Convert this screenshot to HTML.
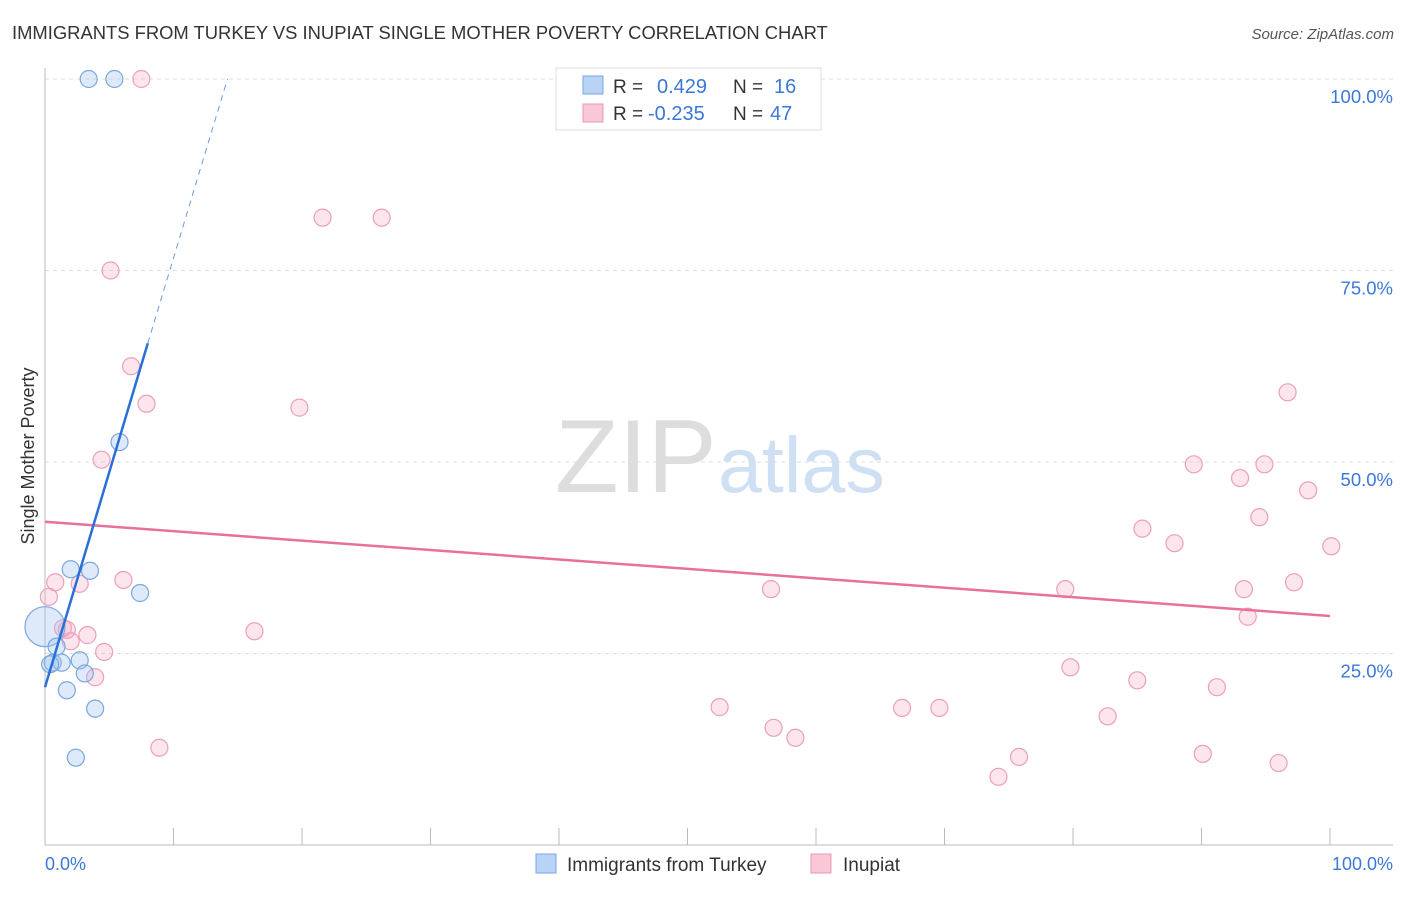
<!DOCTYPE html>
<html><head><meta charset="utf-8"><style>
body{margin:0;background:#fff;font-family:"Liberation Sans",sans-serif;}
svg text{font-family:"Liberation Sans",sans-serif;}
</style></head><body>
<svg id="c" width="1406" height="892">
<text x="12" y="39" font-size="18.4" fill="#333">IMMIGRANTS FROM TURKEY VS INUPIAT SINGLE MOTHER POVERTY CORRELATION CHART</text>
<text x="1394" y="39" font-size="15" fill="#555" text-anchor="end" font-style="italic">Source: ZipAtlas.com</text>
<text x="34" y="456" font-size="18" fill="#333" text-anchor="middle" transform="rotate(-90 34 456)">Single Mother Poverty</text>
<text x="555" y="492" font-size="104" fill="#ddd" font-family="Liberation Serif">ZIP</text>
<text x="718" y="492" font-size="79" fill="#cfe0f5">atlas</text>
<g id="grid"></g><g id="pts"></g><g id="lines"></g>
<g>
<rect x="556" y="68" width="265" height="62" fill="#fff" stroke="#ddd"/>
<rect x="583" y="76" width="20" height="18" fill="#b8d3f5" stroke="#7aa7e0"/>
<text x="613" y="93" font-size="19" fill="#333">R = </text><text x="657" y="93" font-size="20" fill="#3a78d8">0.429</text>
<text x="733" y="93" font-size="19" fill="#333">N = </text><text x="774" y="93" font-size="20" fill="#3a78d8">16</text>
<rect x="583" y="104" width="20" height="18" fill="#f8c8d6" stroke="#e898b0"/>
<text x="613" y="120" font-size="19" fill="#333">R = </text><text x="648" y="120" font-size="20" fill="#3a78d8">-0.235</text>
<text x="733" y="120" font-size="19" fill="#333">N = </text><text x="770" y="120" font-size="20" fill="#3a78d8">47</text>
</g>
<g>
<rect x="536" y="854" width="20" height="19" fill="#b8d3f5" stroke="#7aa7e0"/>
<text x="567" y="871" font-size="19" fill="#333">Immigrants from Turkey</text>
<rect x="811" y="854" width="20" height="19" fill="#f8c8d6" stroke="#e898b0"/>
<text x="843" y="871" font-size="19" fill="#333">Inupiat</text>
</g>
<text x="45" y="870" font-size="18" fill="#3a78d8">0.0%</text>
<text x="1393" y="870" font-size="18" fill="#3a78d8" text-anchor="end">100.0%</text>
</svg>
<script>
const yTicks=[100,75,50,25];
const yTickLabels=["100.0%","75.0%","50.0%","25.0%"];
const blueX=[3.4,5.4,5.8,2.0,3.5,7.4,0.0,0.9,0.6,1.3,2.7,3.1,1.7,3.9,2.4,0.4];
const blueY=[100,100,52.6,36.0,35.8,32.9,28.5,25.9,23.8,23.8,24.1,22.4,20.2,17.8,11.4,23.6];
const pinkX=[7.5,21.6,26.2,5.1,6.7,7.9,19.8,4.4,0.8,0.3,2.7,6.1,1.4,1.7,2.0,3.3,4.6,3.9,8.9,16.3,52.5,56.5,56.7,58.4,66.7,69.6,74.2,75.8,79.4,79.8,82.7,85.0,85.4,87.9,89.4,90.1,91.2,93.0,93.3,93.6,94.5,94.9,96.0,96.7,97.2,98.3,100.1];
const pinkY=[100,81.9,81.9,75.0,62.5,57.6,57.1,50.3,34.3,32.4,34.1,34.6,28.3,28.1,26.6,27.4,25.2,21.9,12.7,27.9,18.0,33.4,15.3,14.0,17.9,17.9,8.9,11.5,33.4,23.2,16.8,21.5,41.3,39.4,49.7,11.9,20.6,47.9,33.4,29.8,42.8,49.7,10.7,59.1,34.3,46.3,39.0];
const X=v=>45+v*12.85, Y=v=>845-v*7.66;
const ns="http://www.w3.org/2000/svg";
function mk(t,a,p){const e=document.createElementNS(ns,t);for(const k in a)e.setAttribute(k,a[k]);document.getElementById(p).appendChild(e);return e;}
yTicks.forEach((t,i)=>{
 const l=mk('line',{x1:45,x2:1393,y1:Y(t),y2:Y(t),stroke:'#ddd','stroke-dasharray':'4,4'},'grid');
 
 
 const tx=mk('text',{x:1393,y:Y(t)+24,'font-size':18.5,fill:'#3a78d8','text-anchor':'end'},'grid');tx.textContent=yTickLabels[i];
 
 
});
const ax=mk('line',{x1:45,x2:45,y1:68,y2:845,stroke:'#bbb'},'grid');


const bx=mk('line',{x1:45,x2:1393,y1:845,y2:845,stroke:'#bbb'},'grid');


for(let i=0;i<=10;i++){const t=mk('line',{x1:X(i*10),x2:X(i*10),y1:828,y2:845,stroke:'#bbb'},'grid');
 
 }
pinkX.forEach((v,i)=>{const c=mk('circle',{cx:X(v),cy:Y(pinkY[i]),r:8.5,fill:'rgba(244,170,195,0.3)',stroke:'#eba0b8','stroke-width':1.2},'pts');
 
 });
blueX.forEach((v,i)=>{const c=mk('circle',{cx:X(v),cy:Y(blueY[i]),r:i==6?20:8.5,fill:'rgba(160,195,240,0.35)',stroke:'#7aa7e0','stroke-width':1.2},'pts');
 
 });
const pl=mk('line',{x1:X(0),y1:Y(42.2),x2:X(100),y2:Y(29.9),stroke:'#e8709a','stroke-width':2.5},'lines');


const b1=mk('line',{x1:X(0),y1:Y(20.6),x2:X(8.0),y2:Y(65.5),stroke:'#2a6fd8','stroke-width':2.5},'lines');


const b2=mk('line',{x1:X(8.0),y1:Y(65.5),x2:X(14.2),y2:Y(100),stroke:'#6a9be0','stroke-width':1,'stroke-dasharray':'6,5'},'lines');


</script>
</body></html>
